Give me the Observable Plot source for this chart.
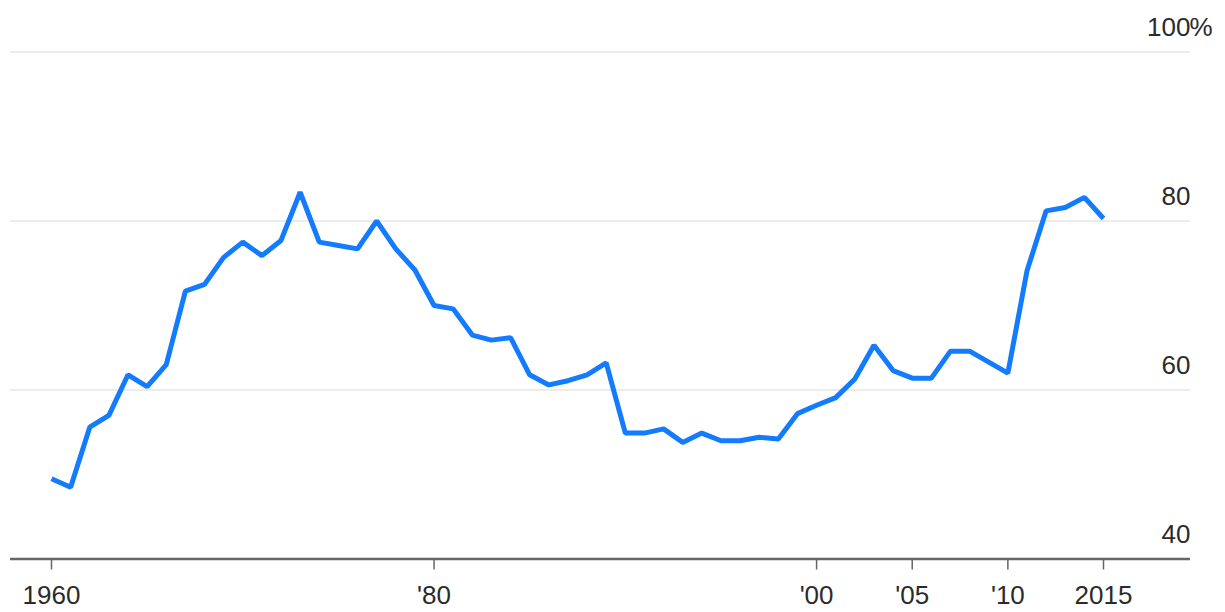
<!DOCTYPE html>
<html>
<head>
<meta charset="utf-8">
<script src="https://cdn.jsdelivr.net/npm/d3@7"></script>
<script src="https://cdn.jsdelivr.net/npm/@observablehq/plot@0.6"></script>
<style>
  html, body { margin: 0; padding: 0; background: #fff; }
  #chart svg { display: block; }
</style>
</head>
<body>
<div id="chart"></div>
<script>
const years = d3.range(1960, 2016);
const values = [
  49.5, 48.5, 55.6, 57.0, 61.8, 60.4, 63.0, 71.7, 72.5, 75.7,
  77.5, 75.9, 77.7, 83.4, 77.5, 77.1, 76.7, 80.0, 76.7, 74.2,
  70.0, 69.6, 66.5, 65.9, 66.2, 61.8, 60.6, 61.1, 61.8, 63.2,
  54.9, 54.9, 55.4, 53.8, 54.9, 54.0, 54.0, 54.4, 54.2, 57.2,
  58.2, 59.1, 61.3, 65.3, 62.3, 61.4, 61.4, 64.6, 64.6, 63.3,
  62.0, 74.1, 81.2, 81.6, 82.8, 80.3
];
const xTicks = [1960, 1980, 2000, 2005, 2010, 2015];
const xTickLabels = ["1960", "'80", "'00", "'05", "'10", "2015"];
const yGrid = [60, 80, 100];
const yTicks = [40, 60, 80, 100];
const yTickLabels = ["40", "60", "80", "100"];

const data = years.map((y, i) => ({year: y, value: values[i]}));
const xLab = new Map(xTicks.map((t, i) => [t, xTickLabels[i]]));

const font = "'Liberation Sans', Arial, Helvetica, sans-serif";

const chart = Plot.plot({
  width: 1225,
  height: 612,
  marginLeft: 10,
  marginRight: 35,
  marginTop: 51.5,
  marginBottom: 53.5,
  style: {fontFamily: font, fontSize: "26px", color: "#333", background: "#fff"},
  x: {domain: [1960, 2015], range: [51, 1103], axis: null},
  y: {domain: [40, 100], axis: null},
  marks: [
    Plot.ruleY(yGrid, {stroke: "#e6e6e6", strokeWidth: 1.5}),
    Plot.axisX({ticks: xTicks, tickFormat: d => xLab.get(d), tickSize: 11, tickPadding: 16, stroke: "#666", strokeWidth: 1.5, fontSize: 26, fill: "#2b2b2b", anchor: "bottom", label: null}),
    Plot.ruleY([40], {stroke: "#666", strokeWidth: 2.5}),
    Plot.text(yTicks, {y: d => d, text: (d, i) => yTickLabels[i], frameAnchor: "right", textAnchor: "end", lineAnchor: "bottom", dy: -16, fill: "#2b2b2b", fontSize: 26}),
    Plot.text([100], {y: d => d, text: () => "%", frameAnchor: "right", textAnchor: "start", lineAnchor: "bottom", dy: -16, dx: -1, fill: "#2b2b2b", fontSize: 26}),
    Plot.line(data, {x: "year", y: "value", stroke: "#137bfd", strokeWidth: 5, strokeLinejoin: "miter", strokeLinecap: "butt"})
  ]
});

document.getElementById("chart").appendChild(chart);
</script>
</body>
</html>
